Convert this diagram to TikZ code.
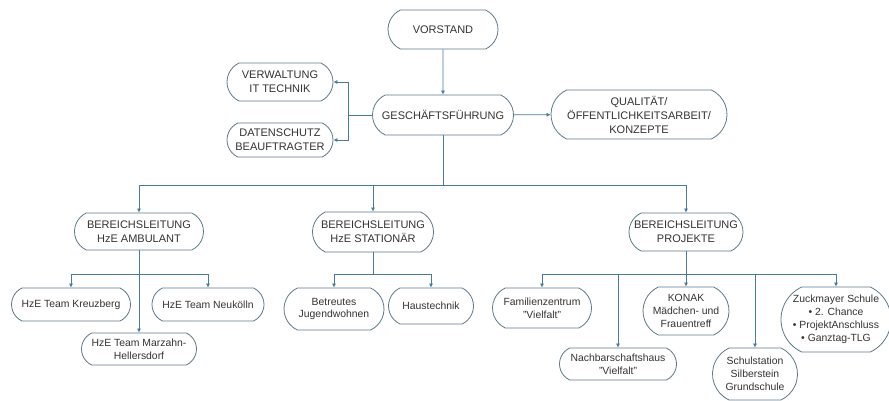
\documentclass[tikz,border=0pt]{standalone}
\usepackage{fontspec}
\setmainfont{Liberation Sans}
\usetikzlibrary{arrows.meta,shapes.misc}
\definecolor{boxline}{HTML}{5E7888}
\definecolor{linkline}{HTML}{4A7A9A}
\definecolor{boxtext}{HTML}{333333}
\tikzset{
  box/.style 2 args={rounded rectangle, rounded rectangle arc length=130,
    draw=boxline, line width=0.8pt,
    align=center, text=boxtext, inner sep=0pt,
    minimum width=#1, minimum height=#2},
  capsbox/.style 2 args={box={#1}{#2}, font=\fontsize{11}{14}\selectfont},
  smallbox/.style 2 args={box={#1}{#2}, font=\fontsize{10.4}{12.8}\selectfont},
  link/.style={draw=linkline, line width=0.7pt},
  arr/.style={link, -{Latex[length=4pt,width=4pt]}}
}

\begin{document}
\begin{tikzpicture}[x=1pt, y=-1pt]
  \useasboundingbox[fill=white] (0,0) rectangle (889,401);

  % leitung
  \node[capsbox={110pt}{39pt}] (vorstand) at (443,29.5) {VORSTAND};
  \node[capsbox={141pt}{40pt}] (gf) at (443,115) {GESCHÄFTSFÜHRUNG};
  \node[capsbox={106pt}{38pt}] (verw) at (280,82) {VERWALTUNG\\IT TECHNIK};
  \node[capsbox={106pt}{34pt}] (daten) at (280,140) {DATENSCHUTZ\\BEAUFTRAGTER};
  \node[capsbox={176pt}{49pt}] (qual) at (639,114.5) {QUALITÄT/\\ÖFFENTLICHKEITSARBEIT/\\KONZEPTE};

  % bereichsleitungen
  \node[capsbox={129pt}{37pt}] (amb) at (139,231.5) {BEREICHSLEITUNG\\HzE AMBULANT};
  \node[capsbox={121pt}{40pt}] (stat) at (373,232) {BEREICHSLEITUNG\\HzE STATIONÄR};
  \node[capsbox={114pt}{38pt}] (proj) at (686,232) {BEREICHSLEITUNG\\PROJEKTE};

  % teams ambulant
  \node[smallbox={119pt}{33pt}] (kreuz) at (71,304.5) {HzE Team Kreuzberg};
  \node[smallbox={112pt}{33pt}] (neuk) at (208,304.5) {HzE Team Neukölln};
  \node[smallbox={115pt}{32pt}] (marz) at (139,349) {HzE Team Marzahn-\\Hellersdorf};

  % stationaer
  \node[smallbox={100pt}{42pt}] (betr) at (334,309) {Betreutes\\Jugendwohnen};
  \node[smallbox={85pt}{36pt}] (haus) at (431,306) {Haustechnik};

  % projekte
  \node[smallbox={99pt}{40pt}] (fam) at (542,308) {Familienzentrum\\"Vielfalt"};
  \node[smallbox={117pt}{32pt}] (nach) at (618,364) {Nachbarschaftshaus\\"Vielfalt"};
  \node[smallbox={86pt}{48pt}] (konak) at (686,311) {KONAK\\Mädchen- und\\Frauentreff};
  \node[smallbox={85pt}{52pt}] (schul) at (755,374) {Schulstation\\Silberstein\\Grundschule};
  \node[smallbox={110pt}{65pt}] (zuck) at (836,319.5) {Zuckmayer Schule\\\textbullet\ 2. Chance\\\textbullet\ ProjektAnschluss\\\textbullet\ Ganztag-TLG};

  % verbindungen oben
  \draw[arr] (vorstand) -- (gf);
  \draw[arr] (gf) -- (qual);
  \coordinate (gfl) at (348,115);
  \draw[link] (gf.west) -- (gfl);
  \foreach \t in {verw,daten}
    \draw[arr] (gfl) |- (\t.east);

  % bus zu den bereichen
  \coordinate (bus) at (443,185);
  \draw[link] (gf.south) -- (bus);
  \foreach \t in {amb,stat,proj}
    \draw[arr] (bus) -| (\t.north);

  % ambulant
  \coordinate (ambbus) at (139,274);
  \draw[arr] (amb.south) -- (marz.north);
  \foreach \t in {kreuz,neuk}
    \draw[arr] (ambbus) -| (\t.north);

  % stationaer
  \coordinate (statbus) at (373,274);
  \draw[link] (stat.south) -- (statbus);
  \foreach \t in {betr,haus}
    \draw[arr] (statbus) -| (\t.north);

  % projekte
  \coordinate (projbus) at (686,274);
  \draw[arr] (proj.south) -- (konak.north);
  \foreach \t in {fam,nach,schul,zuck}
    \draw[arr] (projbus) -| (\t.north);
\end{tikzpicture}
\end{document}
